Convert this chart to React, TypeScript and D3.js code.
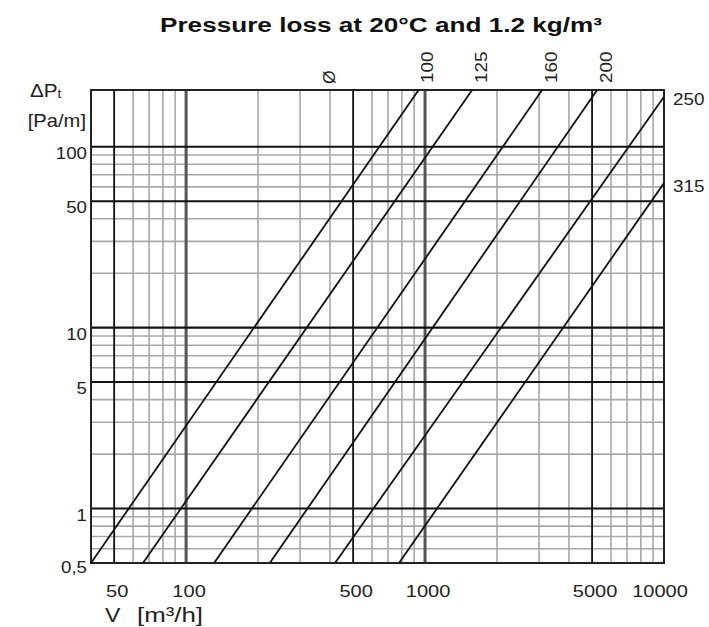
import React from "react";
import * as d3 from "d3";

// ---- data ----
const title = "Pressure loss at 20°C and 1.2 kg/m³";
const xDomain = [40, 10000];
const yDomain = [0.5, 206];

const xTickValues = [50, 100, 500, 1000, 5000, 10000];
const xTickLabels = ["50", "100", "500", "1000", "5000", "10000"];
const yTickValues = [0.5, 1, 5, 10, 50, 100];
const yTickLabels = ["0,5", "1", "5", "10", "50", "100"];

const xMinorGrid = [60, 70, 80, 90, 200, 300, 400, 600, 700, 800, 900, 2000, 3000, 4000, 6000, 7000, 8000, 9000];
const xHalfGrid = [50, 500, 5000];
const xDecadeGrid = [100, 1000];
const yMinorGrid = [0.6, 0.7, 0.8, 0.9, 2, 3, 4, 6, 7, 8, 9, 20, 30, 40, 60, 70, 80, 90];
const yMajorGrid = [1, 5, 10, 50, 100];

const diameters = ["100", "125", "160", "200", "250", "315"];
const lineStartV = [40, 66, 131, 224, 420, 778];
const lineStartDp = [0.5, 0.5, 0.5, 0.5, 0.5, 0.5];
const lineEndV = [940, 1574, 3090, 5250, 10000, 10000];
const lineEndDp = [206, 206, 206, 206, 189, 63];

// ---- layout ----
const W = 709;
const H = 627;
const L = 91, R = 664, T = 90, B = 563;
const FONT = "'Liberation Sans', Arial, Helvetica, sans-serif";
const SX = 1.18;

export default function App() {
  const x = d3.scaleLog().domain(xDomain).range([L, R]);
  const y = d3.scaleLog().domain(yDomain).range([B, T]);
  const line = d3.line<[number, number]>().x((d) => x(d[0])).y((d) => y(d[1]));

  return (
    <svg
      width={W}
      height={H}
      style={{ position: "absolute", left: 0, top: 0, background: "#fff" }}
      fontFamily={FONT}
    >
      <defs>
        <clipPath id="plot">
          <rect x={L} y={T} width={R - L} height={B - T} />
        </clipPath>
      </defs>
      <rect x={0} y={0} width={W} height={H} fill="#fff" />

      {/* title */}
      <text
        x={381}
        y={32}
        textAnchor="middle"
        fontWeight="bold"
        fontSize={20}
        textLength={442}
        lengthAdjust="spacingAndGlyphs"
        fill="#111"
      >
        {title}
      </text>

      {/* grid */}
      <g>
        {yMinorGrid.map((v) => (
          <line key={"ym" + v} x1={L} x2={R} y1={y(v)} y2={y(v)} stroke="#a8a8a8" strokeWidth={1.6} />
        ))}
        {xMinorGrid.map((v) => (
          <line key={"xm" + v} x1={x(v)} x2={x(v)} y1={T} y2={B} stroke="#a8a8a8" strokeWidth={1.6} />
        ))}
        {xDecadeGrid.map((v) => (
          <line key={"xd" + v} x1={x(v)} x2={x(v)} y1={T} y2={B} stroke="#555" strokeWidth={3} />
        ))}
        {xHalfGrid.map((v) => (
          <line key={"xh" + v} x1={x(v)} x2={x(v)} y1={T} y2={B} stroke="#111" strokeWidth={1.8} />
        ))}
        {yMajorGrid.map((v) => (
          <line
            key={"yM" + v}
            x1={L}
            x2={R}
            y1={y(v)}
            y2={y(v)}
            stroke="#111"
            strokeWidth={v === 10 ? 2.4 : 2}
          />
        ))}
        <rect x={L} y={T} width={R - L} height={B - T} fill="none" stroke="#222" strokeWidth={2} />
      </g>

      {/* diameter lines */}
      <g clipPath="url(#plot)">
        {diameters.map((d, i) => (
          <path
            key={"l" + d}
            d={line([
              [lineStartV[i], lineStartDp[i]],
              [lineEndV[i], lineEndDp[i]],
            ]) as string}
            fill="none"
            stroke="#111"
            strokeWidth={1.8}
          />
        ))}
      </g>

      {/* diameter labels */}
      <g fill="#222" fontSize={16}>
        {diameters.map((d, i) =>
          lineEndV[i] < xDomain[1] ? (
            <text
              key={"t" + d}
              transform={`translate(${x(lineEndV[i]) + 9},83) rotate(-90) scale(${SX},1)`}
              dy="0.35em"
            >
              {d}
            </text>
          ) : (
            <text
              key={"t" + d}
              transform={`translate(${R + 9},${y(lineEndDp[i]) + 3}) scale(${SX},1)`}
              dy="0.35em"
            >
              {d}
            </text>
          )
        )}
        <text transform={`translate(329,84) rotate(-90) scale(1.1,1)`} dy="0.35em" fontSize={16}>
          Ø
        </text>
      </g>

      {/* y ticks */}
      <g fill="#222" fontSize={17}>
        {yTickValues.map((v, i) => (
          <text
            key={"yt" + v}
            transform={`translate(87,${y(v) + (i === 0 ? 4 : 6)}) scale(1.1,1)`}
            textAnchor="end"
            dy="0.35em"
          >
            {yTickLabels[i]}
          </text>
        ))}
        <text transform={`translate(30,97) scale(1.15,1)`} fontSize={18}>
          ΔP<tspan fontSize={12} dy={1}>t</tspan>
        </text>
        <text transform={`translate(86,127) scale(1.12,1)`} fontSize={18} textAnchor="end">
          [Pa/m]
        </text>
      </g>

      {/* x ticks */}
      <g fill="#222" fontSize={17}>
        {xTickValues.map((v, i) => (
          <text
            key={"xt" + v}
            transform={`translate(${Math.min(x(v) + 3, 660)},597) scale(${SX},1)`}
            textAnchor="middle"
          >
            {xTickLabels[i]}
          </text>
        ))}
        <text transform={`translate(105,622) scale(1.15,1)`} fontSize={20}>
          V
        </text>
        <text x={137} y={622} fontSize={20} textLength={66} lengthAdjust="spacingAndGlyphs">
          [m³/h]
        </text>
      </g>
    </svg>
  );
}
